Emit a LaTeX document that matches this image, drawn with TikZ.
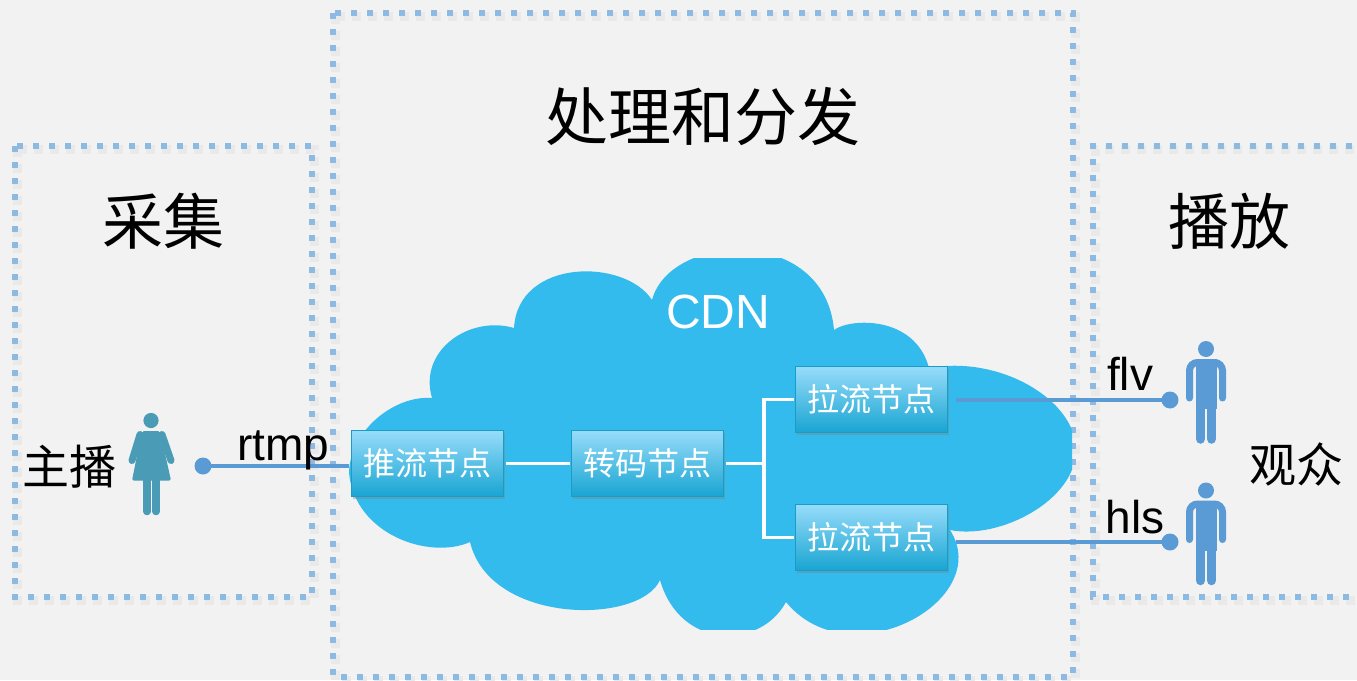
\documentclass[tikz,border=0pt]{standalone}
\usepackage{fontspec}
\setmainfont{Liberation Sans}
\newfontfamily\cjk{Noto Sans CJK SC}
\usetikzlibrary{shadows}
\definecolor{bgcolor}{HTML}{F2F2F2}
\definecolor{dotblue}{HTML}{8DB9E2}
\definecolor{linkblue}{HTML}{5B9BD5}
\definecolor{cloudblue}{HTML}{33BBEE}
\definecolor{womancolor}{HTML}{4A9BB5}
\definecolor{boxtop}{HTML}{97DCFA}
\definecolor{boxbottom}{HTML}{18A5D2}
\definecolor{boxline}{HTML}{1C9CC2}
\definecolor{dotshadow}{HTML}{E9E9E9}
\tikzset{
  dotbox/.style={draw=dotblue,line width=6pt,dash pattern=on 6pt off 10pt},
  dotshade/.style={draw=dotshadow,line width=9pt,dash pattern=on 9pt off 7pt,dash phase=1.5pt},
  titlelabel/.style={inner sep=0pt,font=\cjk\fontsize{61}{61}\selectfont},
  sidelabel/.style={inner sep=0pt,font=\cjk\fontsize{47}{47}\selectfont},
  linklabel/.style={inner sep=0pt,font=\fontsize{46}{46}\selectfont},
  nodebox/.style={draw=boxline,line width=1.5pt,top color=boxtop,bottom color=boxbottom,
    minimum width=152pt,minimum height=66pt,inner sep=0pt,text=white,
    font=\cjk\fontsize{32}{32}\selectfont,
    drop shadow={shadow xshift=1pt,shadow yshift=-2.5pt,opacity=.4}},
  whiteline/.style={draw=white,line width=3.5pt},
  bluelink/.style={draw=linkblue,line width=3.5pt},
  enddot/.style={circle,fill=linkblue,inner sep=0pt,minimum size=17pt},
  man/.pic={
    \fill[linkblue] (0,0) circle (8);
    \draw[linkblue,line width=7pt,line cap=round,rounded corners=8pt]
      (-16.5,49) -- (-16.5,13.5) -- (16.5,13.5) -- (16.5,49);
    \fill[linkblue] (-10.5,10) rectangle (10.5,60);
    \draw[linkblue,line width=9.5pt,line cap=round] (-5.5,55) -- (-5.5,90);
    \draw[linkblue,line width=9.5pt,line cap=round] (5.5,55) -- (5.5,90);
  },
  woman/.pic={
    \fill[womancolor] (0,0) circle (7.6);
    \fill[womancolor,rounded corners=2pt] (-9,10.5) -- (9,10.5) -- (20,60) -- (-19,60) -- cycle;
    \draw[womancolor,line width=7pt,line cap=round] (-11,14) -- (-19,40);
    \draw[womancolor,line width=7pt,line cap=round] (11,14) -- (20,40);
    \draw[womancolor,line width=7.5pt,line cap=round] (-4,55) -- (-4,91);
    \draw[womancolor,line width=7.5pt,line cap=round] (5,55) -- (5,91);
  }
}
\begin{document}
\begin{tikzpicture}[x=1pt,y=-1pt]
\useasboundingbox (0,0) rectangle (1357,680);
\clip (0,0) rectangle (1357,680);
\fill[bgcolor] (0,0) rectangle (1357,680);
% dotted frames, each with a soft shade below it
\draw[dotshade] (17,149) rectangle (314,600);
\draw[dotshade] (335,16) rectangle (1075,680);
\draw[dotshade] (1400,149) -- (1095,149) -- (1095,600) -- (1400,600);
\draw[dotbox] (15,146) rectangle (312,597);
\draw[dotbox] (333,13) rectangle (1073,677);
\draw[dotbox] (1400,146) -- (1093,146) -- (1093,597) -- (1400,597);
% cloud
\begin{scope}
\clip (340,258) rectangle (1072,629);
\fill[cloudblue] (432,398) .. controls (418,350) and (470,315) .. (514,328)
  .. controls (518,258) and (625,258) .. (652,300)
  .. controls (670,232) and (825,225) .. (834,330)
  .. controls (850,318) and (915,315) .. (929,368)
  .. controls (1000,355) and (1076,400) .. (1076,450)
  .. controls (1076,500) and (1000,540) .. (950,530)
  .. controls (995,600) and (850,680) .. (786,602)
  .. controls (760,650) and (680,650) .. (660,580)
  .. controls (640,625) and (490,625) .. (470,542)
  .. controls (430,560) and (355,535) .. (349,473)
  .. controls (350,430) and (395,395) .. (432,398) -- cycle;
\end{scope}
\node[inner sep=0pt,text=white,font=\fontsize{48}{48}\selectfont] (cdn) at (718,312) {CDN};
% titles
\node[titlelabel,font=\cjk\fontsize{63}{63}\selectfont] (process) at (703,117) {处理和分发};
\node[titlelabel] (capture) at (163,221) {采集};
\node[titlelabel] (play) at (1229,221) {播放};
\node[sidelabel] (anchor) at (70,467) {主播};
\node[sidelabel] (viewers) at (1296,464) {观众};
% people
\pic at (151,420.5) {woman};
\pic at (1206,349) {man};
\pic at (1206,490.5) {man};
% cdn nodes
\node[nodebox] (push) at (427.5,463.5) {推流节点};
\node[nodebox] (trans) at (647.5,463.5) {转码节点};
\node[nodebox] (pulla) at (871.5,399.5) {拉流节点};
\node[nodebox] (pullb) at (871.5,537.5) {拉流节点};
\coordinate (branch) at (764,463.5);
\draw[whiteline,shorten <=2pt,shorten >=1pt] (push.east) -- (trans.west);
\draw[whiteline,shorten <=2pt] (trans.east) -- (branch);
\draw[whiteline,shorten >=1pt] (branch) |- (pulla.west);
\draw[whiteline,shorten >=1pt] (branch) |- (pullb.west);
% links to the people
\node[enddot] (rtmpdot) at (203,466) {};
\node[enddot] (flvdot) at (1170,400) {};
\node[enddot] (hlsdot) at (1170,542) {};
\draw[bluelink,shorten >=2pt] (rtmpdot.center) -- (rtmpdot -| push.west);
\draw[bluelink,shorten >=8pt] (flvdot.center) -- (flvdot -| pulla.east);
\draw[bluelink,shorten >=8pt] (hlsdot.center) -- (hlsdot -| pullb.east);
\node[linklabel] (rtmp) at (283,450) {rtmp};
\node[linklabel] (flv) at (1130,374) {flv};
\node[linklabel] (hls) at (1135,517) {hls};
\end{tikzpicture}
\end{document}
